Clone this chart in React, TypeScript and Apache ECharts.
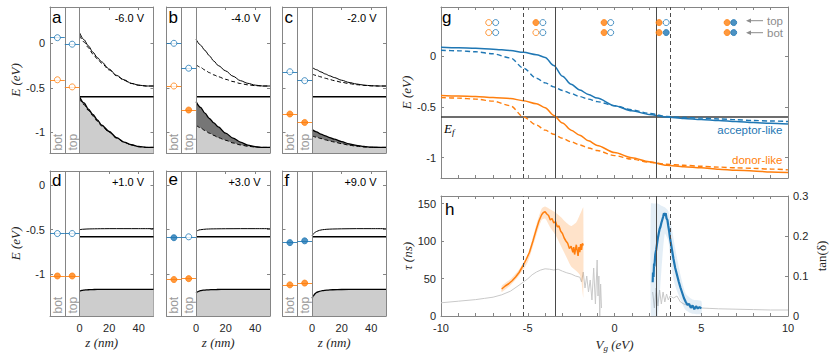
import React, { useEffect, useRef } from "react";
import * as echarts from "echarts";

const BLUE = "#1f77b4";
const ORANGE = "#ff7f0e";
const FRAME = "#858585";
const INK = "#262626";
const SANS = "'Liberation Sans', Arial, Helvetica, sans-serif";
const SERIF = "'Liberation Serif', 'Times New Roman', serif";

// ---------------- panels a–f : band diagrams ----------------
const panelLetters = ["a", "b", "c", "d", "e", "f"];
const panelVoltages = ["-6.0 V", "-4.0 V", "-2.0 V", "+1.0 V", "+3.0 V", "+9.0 V"];
const fermiRow = [-0.6, -0.58];
const zTop = [0, 3, 6, 9, 12, 15, 20, 25, 30, 35, 40, 45, 50];
const zBot = [0, 1, 2, 3, 5, 7, 10, 14, 20, 30, 40, 50];
const zTicks = [0, 20, 40];
const eTicks = [-1, -0.5, 0];

const cbSolidA = [0.12, 0.04, -0.03, -0.1, -0.16, -0.21, -0.29, -0.36, -0.41, -0.45, -0.47, -0.48, -0.48];
const cbDashA = [0.09, 0.015, -0.05, -0.12, -0.175, -0.225, -0.3, -0.365, -0.415, -0.452, -0.472, -0.48, -0.48];
const vbSolidA = [-0.6, -0.67, -0.74, -0.8, -0.86, -0.92, -0.99, -1.06, -1.11, -1.14, -1.16, -1.17, -1.17];
const vbDashA = [-0.62, -0.69, -0.755, -0.815, -0.875, -0.93, -1.0, -1.065, -1.112, -1.142, -1.162, -1.17, -1.17];

const cbSolidB = [0.045, -0.02, -0.08, -0.14, -0.2, -0.25, -0.31, -0.37, -0.42, -0.45, -0.47, -0.48, -0.48];
const cbDashB = [-0.24, -0.27, -0.3, -0.33, -0.355, -0.375, -0.405, -0.43, -0.452, -0.467, -0.476, -0.48, -0.48];
const vbSolidB = [-0.655, -0.72, -0.785, -0.845, -0.895, -0.94, -1.01, -1.065, -1.11, -1.145, -1.163, -1.17, -1.17];
const vbDashB = [-0.92, -0.95, -0.98, -1.01, -1.035, -1.06, -1.09, -1.12, -1.142, -1.157, -1.166, -1.17, -1.17];

const cbSolidC = [-0.27, -0.297, -0.322, -0.345, -0.366, -0.385, -0.415, -0.44, -0.457, -0.47, -0.477, -0.48, -0.48];
const cbDashC = [-0.345, -0.362, -0.378, -0.393, -0.407, -0.42, -0.438, -0.453, -0.465, -0.473, -0.478, -0.48, -0.48];
const vbSolidC = [-0.97, -0.995, -1.02, -1.04, -1.06, -1.078, -1.105, -1.13, -1.148, -1.16, -1.167, -1.17, -1.17];
const vbDashC = [-1.04, -1.056, -1.07, -1.085, -1.097, -1.11, -1.128, -1.145, -1.157, -1.165, -1.169, -1.17, -1.17];

const cbD = [-0.5, -0.497, -0.495, -0.494, -0.492, -0.491, -0.49, -0.489, -0.488, -0.488, -0.488, -0.488];
const vbD = [-1.19, -1.185, -1.181, -1.179, -1.176, -1.174, -1.172, -1.171, -1.17, -1.17, -1.17, -1.17];
const cbE = [-0.52, -0.51, -0.503, -0.5, -0.496, -0.493, -0.491, -0.49, -0.489, -0.488, -0.488, -0.488];
const vbE = [-1.21, -1.198, -1.19, -1.185, -1.18, -1.177, -1.174, -1.172, -1.171, -1.17, -1.17, -1.17];
const cbF = [-0.57, -0.545, -0.53, -0.52, -0.507, -0.5, -0.495, -0.492, -0.49, -0.488, -0.488, -0.488];
const vbF = [-1.27, -1.24, -1.22, -1.205, -1.193, -1.185, -1.179, -1.175, -1.172, -1.17, -1.17, -1.17];

// defect-state energies (bot / top interface) per panel a..f
const stateBlueBot = [0.063, 0.0, -0.32, -0.543, -0.59, -0.645];
const stateBlueTop = [-0.01, -0.28, -0.42, -0.543, -0.58, -0.625];
const stateOrangeBot = [-0.41, -0.48, -0.795, -1.02, -1.06, -1.12];
const stateOrangeTop = [-0.49, -0.75, -0.89, -1.02, -1.05, -1.1];
const filledBlueBot = [0, 0, 0, 0, 1, 1];
const filledBlueTop = [0, 0, 0, 0, 0, 1];
const filledOrangeBot = [0, 0, 1, 1, 1, 1];
const filledOrangeTop = [0, 1, 1, 1, 1, 1];

// ---------------- panel g ----------------
const vgG = [-10, -9, -8, -7, -6, -5.25, -4.5, -4, -3.5, -3, -2.5, -2, -1.5, -1, 0, 1, 2, 3, 4, 5, 6, 7, 8, 9, 10];
const acceptorSolid = [0.085, 0.08, 0.075, 0.066, 0.052, 0.035, 0.012, -0.015, -0.095, -0.2, -0.28, -0.335, -0.38, -0.415, -0.49, -0.54, -0.575, -0.6, -0.615, -0.625, -0.635, -0.645, -0.655, -0.663, -0.67];
const acceptorDashed = [0.055, 0.05, 0.04, 0.02, -0.02, -0.12, -0.22, -0.265, -0.305, -0.34, -0.37, -0.4, -0.425, -0.45, -0.49, -0.53, -0.565, -0.595, -0.605, -0.612, -0.62, -0.627, -0.635, -0.64, -0.645];
const donorSolid = [-0.39, -0.395, -0.4, -0.41, -0.42, -0.44, -0.47, -0.51, -0.585, -0.66, -0.73, -0.78, -0.835, -0.88, -0.95, -1.0, -1.04, -1.075, -1.09, -1.1, -1.115, -1.125, -1.13, -1.14, -1.145];
const donorDashed = [-0.41, -0.415, -0.425, -0.445, -0.49, -0.6, -0.68, -0.73, -0.77, -0.81, -0.845, -0.875, -0.905, -0.93, -0.98, -1.015, -1.045, -1.065, -1.075, -1.085, -1.093, -1.1, -1.105, -1.112, -1.12];
const vLinesSolid = [-3.42, 2.39];
const vLinesDashed = [-5.25, 3.23];
const legendOrangeVg = [-7.25, -4.53, -0.6, 2.57, 6.49];
const legendBlueVg = [-6.85, -4.13, -0.22, 2.98, 6.87];
const legendTopOrangeFilled = [0, 1, 1, 1, 1];
const legendTopBlueFilled = [0, 0, 0, 0, 1];
const legendBotOrangeFilled = [0, 0, 1, 1, 1];
const legendBotBlueFilled = [0, 0, 0, 1, 1];

// ---------------- panel h ----------------
const tanDelta: [number, number | null][] = [
  [-10, 0.033], [-9, 0.037], [-8, 0.041], [-7.5, 0.044], [-7, 0.047], [-6.5, 0.053], [-6, 0.062], [-5.5, 0.077],
  [-5, 0.093], [-4.75, 0.103], [-4.5, 0.11], [-4.25, 0.115], [-4, 0.118], [-3.75, 0.117], [-3.5, 0.115], [-3.25, 0.117],
  [-3, 0.112], [-2.75, 0.108], [-2.5, 0.105], [-2.25, 0.1], [-2.0, 0.097], [-1.9, 0.085], [-1.8, 0.11], [-1.7, 0.07],
  [-1.6, 0.1], [-1.5, 0.06], [-1.4, 0.09], [-1.3, 0.04], [-1.2, 0.12], [-1.1, 0.03], [-1.0, 0.14], [-0.95, 0.05],
  [-0.9, 0.1], [-0.85, 0.0], [-0.8, 0.08], [-0.75, 0.02], [0.5, null],
  [2.2, 0.06], [2.3, 0.02], [2.4, 0.07], [2.5, 0.025], [2.6, 0.065], [2.7, 0.03], [2.8, 0.06], [2.9, 0.035],
  [3.0, 0.055], [3.1, 0.04], [3.2, 0.05], [3.4, 0.045], [3.6, 0.05], [3.8, 0.035], [4.0, 0.03], [4.3, 0.025],
  [4.6, 0.022], [5, 0.02], [5.5, 0.019], [6, 0.018], [7, 0.017], [8, 0.016], [9, 0.015], [10, 0.015],
];
const tauDonor: [number, number][] = [
  [-6.5, 36], [-6.3, 40], [-6.1, 43], [-5.9, 47], [-5.7, 52], [-5.5, 58], [-5.3, 66], [-5.1, 75], [-4.9, 85],
  [-4.7, 100], [-4.5, 116], [-4.35, 127], [-4.2, 135], [-4.1, 138], [-4.0, 139], [-3.9, 136], [-3.8, 134],
  [-3.7, 128], [-3.6, 130], [-3.5, 124], [-3.4, 126], [-3.3, 119], [-3.2, 120], [-3.1, 113], [-3.0, 110],
  [-2.9, 104], [-2.8, 100], [-2.7, 97], [-2.6, 90], [-2.5, 93], [-2.4, 85], [-2.35, 92], [-2.3, 82], [-2.2, 95],
  [-2.1, 80], [-2.05, 92], [-2.0, 85], [-1.95, 96], [-1.9, 88], [-1.85, 97], [-1.8, 94],
];
const donorBandVg = [-6.5, -6, -5.5, -5, -4.5, -4.2, -4, -3.7, -3.4, -3.1, -2.8, -2.5, -2.2, -2, -1.9, -1.8];
const donorBandHi = [40, 49, 62, 82, 122, 143, 146, 142, 138, 132, 125, 120, 125, 135, 140, 145];
const donorBandLo = [32, 41, 54, 72, 108, 128, 130, 118, 108, 94, 80, 66, 60, 55, 45, 25];
const tauAcceptor: [number, number][] = [
  [2.2, 45], [2.22, 58], [2.25, 52], [2.28, 70], [2.3, 66], [2.35, 82], [2.4, 88], [2.45, 96], [2.5, 104],
  [2.55, 110], [2.6, 116], [2.65, 119], [2.7, 124], [2.75, 128], [2.8, 132], [2.85, 137], [2.9, 134], [2.95, 137],
  [3.0, 130], [3.05, 128], [3.1, 120], [3.15, 113], [3.2, 104], [3.25, 97], [3.3, 90], [3.35, 83], [3.4, 76],
  [3.5, 64], [3.6, 55], [3.7, 46], [3.8, 38], [3.9, 31], [4.0, 24], [4.1, 19], [4.2, 15], [4.3, 16], [4.4, 11],
  [4.5, 14], [4.6, 9], [4.7, 13], [4.8, 10], [4.9, 12], [5.0, 10],
];
const acceptorBandVg = [2.1, 2.3, 2.5, 2.7, 2.9, 3.1, 3.3, 3.5, 3.8, 4.1, 4.5, 5.0];
const acceptorBandHi = [150, 150, 150, 147, 145, 140, 118, 90, 55, 30, 22, 20];
const acceptorBandLo = [0, 0, 0, 60, 110, 100, 62, 40, 22, 8, 3, 3];

const zip = (xs: number[], ys: number[]) => xs.map((x, i) => [x, ys[i]]);

function buildOption() {
  const grid: any[] = [];
  const xAxis: any[] = [];
  const yAxis: any[] = [];
  const series: any[] = [];
  const graphic: any[] = [];

  const lineSt = { color: FRAME, width: 1 };
  const labelSt = { color: INK, fontSize: 11, fontFamily: SANS };
  const nameSt = { color: INK, fontSize: 13, fontFamily: SERIF, fontStyle: "italic" };
  const axisBase = {
    type: "value",
    axisLine: { show: true, onZero: false, lineStyle: lineSt },
    splitLine: { show: false },
  };

  // ---------- panels a–f ----------
  const COL_LEFT = [50, 166.5, 282.5];
  const PANEL_W = 103.5;
  const ROW_TOP = [7, 171];
  const ROW_H = [146, 145];
  const ROW_YMIN = [-1.233, -1.47];
  const ROW_YMAX = [0.408, 0.16];
  const ZMIN = -20;
  const ZMAX = 50;
  const curveSets = [
    [cbSolidA, cbDashA, vbSolidA, vbDashA],
    [cbSolidB, cbDashB, vbSolidB, vbDashB],
    [cbSolidC, cbDashC, vbSolidC, vbDashC],
    [cbD, null, vbD, null],
    [cbE, null, vbE, null],
    [cbF, null, vbF, null],
  ];
  const letterMid = [17.4, 17.4, 17.0, 180, 179.5, 180];

  for (let i = 0; i < 6; i++) {
    const row = i < 3 ? 0 : 1;
    const col = i % 3;
    const left = COL_LEFT[col];
    const top = ROW_TOP[row];
    const h = ROW_H[row];
    const gi = i;
    grid.push({ left, top, width: PANEL_W, height: h, show: false });
    xAxis.push({
      ...axisBase, gridIndex: gi, position: "bottom", min: ZMIN, max: ZMAX,
      axisTick: { show: true, inside: true, length: 3, lineStyle: lineSt, customValues: zTicks },
      axisLabel: { show: row === 1, customValues: zTicks, margin: 6, ...labelSt },
      name: row === 1 ? "z (nm)" : "", nameLocation: "middle", nameGap: 20, nameTextStyle: nameSt,
    });
    xAxis.push({
      ...axisBase, gridIndex: gi, position: "top", min: ZMIN, max: ZMAX,
      axisTick: { show: true, inside: true, length: 3, lineStyle: lineSt, customValues: zTicks },
      axisLabel: { show: false },
    });
    yAxis.push({
      ...axisBase, gridIndex: gi, position: "left", min: ROW_YMIN[row], max: ROW_YMAX[row],
      axisTick: { show: true, inside: true, length: 3, lineStyle: lineSt, customValues: eTicks },
      axisLabel: { show: col === 0, customValues: eTicks, margin: 5, ...labelSt },
      name: col === 0 ? "E (eV)" : "", nameLocation: "middle", nameGap: 21, nameTextStyle: nameSt,
    });
    yAxis.push({
      ...axisBase, gridIndex: gi, position: "right", min: ROW_YMIN[row], max: ROW_YMAX[row],
      axisTick: { show: true, inside: true, length: 3, lineStyle: lineSt, customValues: eTicks },
      axisLabel: { show: false },
    });
    const xi = 2 * gi;
    const yi = 2 * gi;
    const zs = row === 0 ? zTop : zBot;
    const [cbS, cbDs, vbS, vbDs] = curveSets[i];
    const common = { xAxisIndex: xi, yAxisIndex: yi, symbol: "none", silent: true, smooth: 0.3, smoothMonotone: "x" };

    // valence band (filled)
    series.push({
      type: "line", ...common, data: zip(zs, vbS as number[]),
      lineStyle: { color: "#000", width: 1.3 },
      areaStyle: { color: vbDs ? "#767676" : "#cdcdcd", opacity: 1, origin: "start" },
      z: 2,
    });
    if (vbDs) {
      series.push({
        type: "line", ...common, data: zip(zs, vbDs as number[]),
        lineStyle: { color: "#000", width: 1, type: [4, 2.5] },
        areaStyle: { color: "#cdcdcd", opacity: 1, origin: "start" },
        z: 2,
      });
    }
    // conduction band
    series.push({ type: "line", ...common, data: zip(zs, cbS as number[]), lineStyle: { color: "#000", width: 1 }, z: 3 });
    if (cbDs) {
      series.push({ type: "line", ...common, data: zip(zs, cbDs as number[]), lineStyle: { color: "#000", width: 1, type: [4, 2.5] }, z: 3 });
    }
    // Fermi level + strip dividers
    series.push({
      type: "line", xAxisIndex: xi, yAxisIndex: yi, symbol: "none", silent: true,
      data: [[0, fermiRow[row]], [50, fermiRow[row]]],
      lineStyle: { color: "#000", width: 1.5 }, z: 4,
      markLine: {
        silent: true, symbol: ["none", "none"], label: { show: false },
        lineStyle: { color: FRAME, width: 1, type: "solid" },
        data: [{ xAxis: -10 }, { xAxis: 0 }],
      },
    });
    // defect states
    const mk = (E: number, zc: number, filled: number, color: string) => ({
      value: [zc, E],
      itemStyle: filled ? { color, borderColor: color, borderWidth: 1 } : { color: "#fff", borderColor: color, borderWidth: 1 },
    });
    const stateSeries = (Eb: number, Et: number, fb: number, ft: number, color: string) => ({
      type: "scatter", xAxisIndex: xi, yAxisIndex: yi, symbol: "circle", symbolSize: 6, silent: true, z: 6,
      data: [mk(Eb, -15, fb, color), mk(Et, -5, ft, color)],
      markLine: {
        silent: true, symbol: ["none", "none"], label: { show: false },
        lineStyle: { color, width: 1, type: "solid", opacity: 0.85 },
        data: [
          [{ coord: [-20, Eb] }, { coord: [-10, Eb] }],
          [{ coord: [-10, Et] }, { coord: [0, Et] }],
        ],
      },
    });
    series.push(stateSeries(stateBlueBot[i], stateBlueTop[i], filledBlueBot[i], filledBlueTop[i], BLUE));
    series.push(stateSeries(stateOrangeBot[i], stateOrangeTop[i], filledOrangeBot[i], filledOrangeTop[i], ORANGE));

    // annotations
    const sx = (z: number) => left + ((z - ZMIN) / (ZMAX - ZMIN)) * PANEL_W;
    graphic.push({
      type: "text", x: left + 2, y: letterMid[i], silent: true,
      style: { text: panelLetters[i], fontSize: 17, fontFamily: SANS, fill: "#000", align: "left", verticalAlign: "middle" },
    });
    graphic.push({
      type: "text", x: left + PANEL_W - 9.5, y: top + 11, silent: true,
      style: { text: panelVoltages[i], fontSize: 11, fontFamily: SANS, fill: "#000", align: "right", verticalAlign: "middle" },
    });
    ["bot", "top"].forEach((t, k) => {
      graphic.push({
        type: "text", x: sx(-15 + 10 * k) + 0.5, y: top + h - 2.5, rotation: Math.PI / 2, silent: true,
        style: { text: t, fontSize: 12, fontFamily: SANS, fill: "#9a9a9a", align: "left", verticalAlign: "middle" },
      });
    });
  }

  // ---------- panel g ----------
  const G = { left: 441, top: 7, width: 347, height: 171 };
  const H = { left: 441, top: 196, width: 347, height: 120 };
  grid.push({ ...G, show: false });
  grid.push({ ...H, show: false });
  const vgLabels = [-10, -5, 0, 5, 10];
  // g axes (grid 6 -> x 12,13 / y 12,13)
  xAxis.push({
    ...axisBase, gridIndex: 6, position: "bottom", min: -10, max: 10, interval: 1,
    axisTick: { show: true, inside: true, length: 3, lineStyle: lineSt },
    axisLabel: { show: false },
  });
  xAxis.push({
    ...axisBase, gridIndex: 6, position: "top", min: -10, max: 10, interval: 1,
    axisTick: { show: true, inside: true, length: 3, lineStyle: lineSt },
    axisLabel: { show: false },
  });
  yAxis.push({
    ...axisBase, gridIndex: 6, position: "left", min: -1.2, max: 0.48,
    axisTick: { show: true, inside: true, length: 3, lineStyle: lineSt, customValues: eTicks },
    axisLabel: { show: true, customValues: eTicks, margin: 5, ...labelSt },
    name: "E (eV)", nameLocation: "middle", nameGap: 9, nameTextStyle: nameSt,
  });
  yAxis.push({
    ...axisBase, gridIndex: 6, position: "right", min: -1.2, max: 0.48,
    axisTick: { show: true, inside: true, length: 3, lineStyle: lineSt, customValues: eTicks },
    axisLabel: { show: false },
  });
  // h axes (grid 7 -> x 14,15 / y 14,15)
  xAxis.push({
    ...axisBase, gridIndex: 7, position: "bottom", min: -10, max: 10, interval: 1,
    axisTick: { show: true, inside: true, length: 3, lineStyle: lineSt },
    axisLabel: { show: true, customValues: vgLabels, margin: 6, ...labelSt },
    name: "{i|V}{s|g}{i| (eV)}", nameLocation: "middle", nameGap: 20,
    nameTextStyle: {
      ...nameSt,
      rich: {
        i: { fontSize: 13, fontFamily: SERIF, fontStyle: "italic", color: INK, lineHeight: 16 },
        s: { fontSize: 9, fontFamily: SERIF, fontStyle: "italic", color: INK, verticalAlign: "bottom", lineHeight: 10 },
      },
    },
  });
  xAxis.push({
    ...axisBase, gridIndex: 7, position: "top", min: -10, max: 10, interval: 1,
    axisTick: { show: true, inside: true, length: 3, lineStyle: lineSt },
    axisLabel: { show: false },
  });
  yAxis.push({
    ...axisBase, gridIndex: 7, position: "left", min: 0, max: 160,
    axisTick: { show: true, inside: true, length: 3, lineStyle: lineSt, customValues: [0, 50, 100, 150] },
    axisLabel: { show: true, customValues: [0, 50, 100, 150], margin: 5, ...labelSt },
    name: "τ (ns)", nameLocation: "middle", nameGap: 24, nameTextStyle: nameSt,
  });
  yAxis.push({
    ...axisBase, gridIndex: 7, position: "right", min: 0, max: 0.3, interval: 0.1,
    axisTick: { show: true, inside: true, length: 3, lineStyle: lineSt },
    axisLabel: { show: true, margin: 5, ...labelSt },
    name: "tan(δ)", nameLocation: "middle", nameGap: 27, nameTextStyle: { ...nameSt, fontStyle: "normal" },
  });

  const vMarks = [
    ...vLinesSolid.map((v) => ({ xAxis: v, lineStyle: { color: "#4a4a4a", width: 1, type: "solid" } })),
    ...vLinesDashed.map((v) => ({ xAxis: v, lineStyle: { color: "#4a4a4a", width: 1, type: [4, 3] } })),
  ];
  const markV = { silent: true, symbol: ["none", "none"], label: { show: false }, data: vMarks };

  const gCommon = { xAxisIndex: 12, yAxisIndex: 12, symbol: "none", silent: true, smooth: 0.3, smoothMonotone: "x" };
  series.push({
    type: "line", xAxisIndex: 12, yAxisIndex: 12, symbol: "none", silent: true,
    data: [[-10, -0.6], [10, -0.6]], lineStyle: { color: "#3c3c3c", width: 1.5 }, markLine: markV, z: 2,
  });
  series.push({ type: "line", ...gCommon, data: zip(vgG, acceptorDashed), lineStyle: { color: BLUE, width: 1.4, type: [5, 3] }, z: 3 });
  series.push({ type: "line", ...gCommon, data: zip(vgG, acceptorSolid), lineStyle: { color: BLUE, width: 1.5 }, z: 3 });
  series.push({ type: "line", ...gCommon, data: zip(vgG, donorDashed), lineStyle: { color: ORANGE, width: 1.4, type: [5, 3] }, z: 3 });
  series.push({ type: "line", ...gCommon, data: zip(vgG, donorSolid), lineStyle: { color: ORANGE, width: 1.5 }, z: 3 });

  const LEG_TOP = 0.327;
  const LEG_BOT = 0.229;
  const legItem = (vg: number, e: number, filled: number, color: string) => ({
    value: [vg, e],
    itemStyle: filled ? { color, borderColor: color, borderWidth: 1 } : { color: "#fff", borderColor: color, borderWidth: 1 },
  });
  const legData: any[] = [];
  for (let k = 0; k < legendOrangeVg.length; k++) {
    legData.push(legItem(legendOrangeVg[k], LEG_TOP, legendTopOrangeFilled[k], ORANGE));
    legData.push(legItem(legendBlueVg[k], LEG_TOP, legendTopBlueFilled[k], BLUE));
    legData.push(legItem(legendOrangeVg[k], LEG_BOT, legendBotOrangeFilled[k], ORANGE));
    legData.push(legItem(legendBlueVg[k], LEG_BOT, legendBotBlueFilled[k], BLUE));
  }
  series.push({ type: "scatter", xAxisIndex: 12, yAxisIndex: 12, symbol: "circle", symbolSize: 6, silent: true, data: legData, z: 5 });

  // ---------- panel h ----------
  const band = (xs: number[], lo: number[], hi: number[], fill: string) => ({
    type: "custom", xAxisIndex: 14, yAxisIndex: 14, silent: true, z: 2,
    data: [[xs[0], lo[0]]],
    renderItem: (_p: any, api: any) => {
      const pts: number[][] = [];
      for (let k = 0; k < xs.length; k++) pts.push(api.coord([xs[k], hi[k]]));
      for (let k = xs.length - 1; k >= 0; k--) pts.push(api.coord([xs[k], lo[k]]));
      return { type: "polygon", shape: { points: pts, smooth: 0.2 }, style: { fill } };
    },
  });
  series.push({
    type: "line", xAxisIndex: 14, yAxisIndex: 15, symbol: "none", silent: true, connectNulls: false,
    data: tanDelta, lineStyle: { color: "#c9c9c9", width: 1 }, z: 1,
  });
  series.push(band(acceptorBandVg, acceptorBandLo, acceptorBandHi, "rgba(31,119,180,0.12)"));
  series.push(band(donorBandVg, donorBandLo, donorBandHi, "rgba(255,127,14,0.22)"));
  series.push({
    type: "line", xAxisIndex: 14, yAxisIndex: 14, symbol: "none", silent: true,
    data: tauDonor, lineStyle: { color: ORANGE, width: 1.5 }, z: 3, markLine: markV,
  });
  series.push({
    type: "line", xAxisIndex: 14, yAxisIndex: 14, symbol: "none", silent: true,
    data: tauAcceptor, lineStyle: { color: BLUE, width: 2.2 }, z: 3,
  });

  // ---------- g/h annotations ----------
  graphic.push({ type: "text", x: 442, y: 17.8, silent: true, style: { text: "g", fontSize: 17, fontFamily: SANS, fill: "#000", verticalAlign: "middle" } });
  graphic.push({ type: "text", x: 445, y: 209, silent: true, style: { text: "h", fontSize: 17, fontFamily: SANS, fill: "#000", verticalAlign: "middle" } });
  graphic.push({
    type: "text", x: 444, y: 128.5, silent: true,
    style: {
      text: "{e|E}{s|f}", verticalAlign: "middle",
      rich: {
        e: { fontSize: 13, fontFamily: SERIF, fontStyle: "italic", fill: "#000", lineHeight: 16 },
        s: { fontSize: 9, fontFamily: SERIF, fontStyle: "italic", fill: "#000", verticalAlign: "bottom", lineHeight: 10 },
      },
    },
  });
  graphic.push({ type: "text", x: 782.5, y: 130, silent: true, style: { text: "acceptor-like", fontSize: 11.5, fontFamily: SANS, fill: BLUE, align: "right", verticalAlign: "middle" } });
  graphic.push({ type: "text", x: 782.5, y: 160, silent: true, style: { text: "donor-like", fontSize: 11.5, fontFamily: SANS, fill: ORANGE, align: "right", verticalAlign: "middle" } });
  [["top", 20.7], ["bot", 32.7]].forEach(([t, y]) => {
    const yy = y as number;
    graphic.push({ type: "line", silent: true, shape: { x1: 749, y1: yy, x2: 763, y2: yy }, style: { stroke: "#8c8c8c", lineWidth: 1 } });
    graphic.push({ type: "polygon", silent: true, shape: { points: [[746, yy], [751, yy - 2.3], [751, yy + 2.3]] }, style: { fill: "#8c8c8c" } });
    graphic.push({ type: "text", x: 767, y: yy, silent: true, style: { text: t as string, fontSize: 11.5, fontFamily: SANS, fill: "#8c8c8c", verticalAlign: "middle" } });
  });

  return {
    animation: false,
    backgroundColor: "#fff",
    grid, xAxis, yAxis, series, graphic,
  };
}

export default function App() {
  const ref = useRef<HTMLDivElement>(null);
  useEffect(() => {
    if (!ref.current) return;
    const chart = echarts.init(ref.current, undefined, { renderer: "svg" });
    chart.setOption(buildOption() as any);
    return () => chart.dispose();
  }, []);
  return <div ref={ref} style={{ position: "fixed", left: 0, top: 0, width: 830, height: 356, background: "#fff" }} />;
}
